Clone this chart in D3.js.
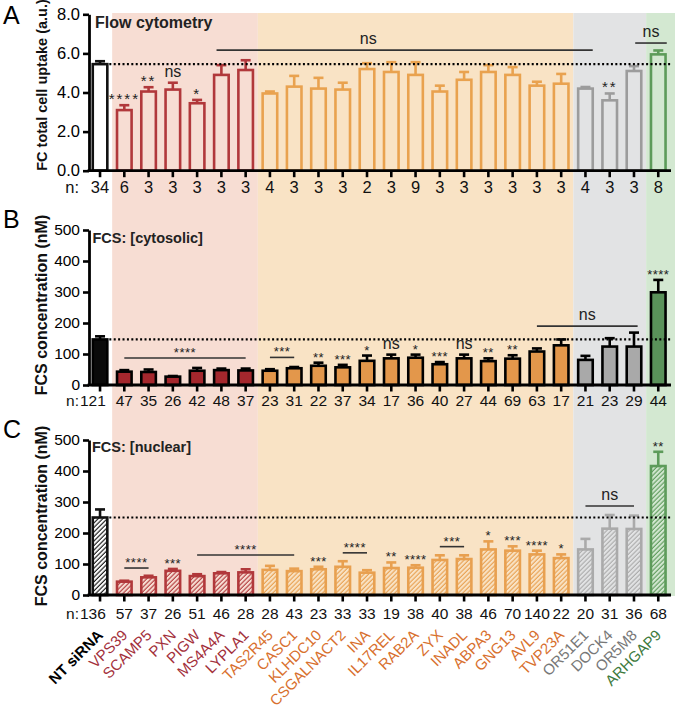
<!DOCTYPE html>
<html><head><meta charset="utf-8">
<script src="https://cdn.jsdelivr.net/npm/d3@7"></script>
<style>
body{margin:0;background:#fff}
svg{display:block}
text{font-family:"Liberation Sans",Arial,Helvetica,sans-serif}
</style>
</head><body>
<svg id="c" width="677" height="709"></svg>
<script>
const categories = ["NT siRNA","VPS39","SCAMP5","PXN","PIGW","MS4A4A","LYPLA1","TAS2R45","CASC1","KLHDC10","CSGALNACT2","INA","IL17REL","RAB2A","ZYX","INADL","ABPA3","GNG13","AVL9","TVP23A","OR51E1","DOCK4","OR5M8","ARHGAP9"];
const groups = ["ctrl","red","red","red","red","red","red","orange","orange","orange","orange","orange","orange","orange","orange","orange","orange","orange","orange","orange","gray","gray","gray","green"];

// Panel A: flow cytometry (a.u.)
const flowMean = [5.45,3.1,4.05,4.15,3.45,4.9,5.15,3.95,4.3,4.2,4.15,5.2,5.05,4.9,4.05,4.65,5.05,4.9,4.35,4.45,4.2,3.6,5.1,5.95];
const flowErr  = [0.15,0.25,0.22,0.35,0.17,0.5,0.5,0.1,0.55,0.55,0.35,0.3,0.5,0.65,0.3,0.4,0.35,0.4,0.2,0.5,0.08,0.35,0.25,0.2];
const flowN    = [34,6,3,3,3,3,3,4,3,3,3,2,3,9,3,3,3,3,3,3,4,3,3,8];
const flowTicks = [0,2,4,6,8];
const flowStars = [{i:1,t:"****"},{i:2,t:"**"},{i:3,t:"ns"},{i:4,t:"*"},{i:21,t:"**"}];
const flowBrackets = [{from:4.8,to:20.3,y:6.17,t:"ns",tx:11.05},{from:22.05,to:23.35,y:6.53,t:"ns"}];

// Panel B: FCS cytosolic (nM)
const cytoMean = [147,43,42,27,46,48,47,46,54,62,57,78,86,88,67,86,77,85,108,128,81,124,124,299];
const cytoErr  = [10,5,8,2,9,5,6,5,4,10,8,17,12,10,7,12,9,11,10,19,13,27,45,40];
const cytoN    = [121,47,35,26,42,48,37,23,31,22,37,34,17,36,40,27,44,69,63,17,21,23,29,44];
const cytoStars = [{i:9,t:"**"},{i:10,t:"***"},{i:11,t:"*"},{i:12,t:"ns"},{i:13,t:"*"},{i:14,t:"***"},{i:15,t:"ns"},{i:16,t:"**"},{i:17,t:"**"},{i:23,t:"****"}];
const cytoBrackets = [{from:1,to:6,y:87,t:"****"},{from:7,to:8,y:89,t:"***"},{from:18,to:22.15,y:190,t:"ns"}];

// Panel C: FCS nuclear (nM)
const nucMean = [250,43,57,78,61,70,73,81,77,83,91,72,87,88,113,116,147,143,131,119,147,214,213,416];
const nucErr  = [26,3,5,6,6,4,10,13,8,8,18,8,18,8,15,12,26,14,12,12,34,44,43,46];
const nucN    = [136,57,37,26,51,46,28,28,43,23,33,33,19,38,40,38,46,70,140,22,20,31,36,68];
const nucStars = [{i:3,t:"***"},{i:9,t:"***"},{i:12,t:"**"},{i:13,t:"****"},{i:16,t:"*"},{i:17,t:"***"},{i:18,t:"****"},{i:19,t:"*"},{i:23,t:"**"}];
const nucBrackets = [{from:1,to:2,y:87,t:"****"},{from:4,to:8,y:129,t:"****"},{from:10,to:11,y:136,t:"****"},{from:14,to:15,y:156,t:"***"},{from:20,to:22,y:287,t:"ns"}];
const concTicks = [0,100,200,300,400,500];

const svg = d3.select("#c");
const x = d3.scaleBand().domain(categories).range([87.9,670.4]).paddingInner(0.4).paddingOuter(0.2);
const step = x.step(), bw = x.bandwidth();
const cx = i => x(categories[0]) + bw/2 + i*step;
const AXIS_X = 89, AXIS_END = 671;

const bandColor = {red:"#f7ddd3", orange:"#f9e3c5", gray:"#e2e3e4", green:"#d3e8d1"};
const outline = {ctrl:"#111", red:"#b1383b", orange:"#e9a24f", gray:"#9c9c9c", green:"#5d9b5a"};
const solid = {ctrl:"#0a0a0a", red:"#a4272d", orange:"#e3974b", gray:"#a9a9a9", green:"#5a925a"};
const hatchStroke = {ctrl:"#111", red:"#b1383b", orange:"#e8a050", gray:"#aaaaaa", green:"#5d9b5a"};
const labelColor = {ctrl:"#000", red:"#a3303b", orange:"#d8702e", gray:"#787878", green:"#3d7a3d"};

// background bands
const runs = [];
let s0 = 0;
for (let i = 1; i <= groups.length; i++) {
  if (i === groups.length || groups[i] !== groups[s0]) { runs.push({g:groups[s0], a:s0, b:i-1}); s0 = i; }
}
runs.filter(r => r.g !== "ctrl").forEach(r => {
  const x0 = cx(r.a) - step/2;
  const x1 = r.b === categories.length-1 ? cx(r.b) + step*0.69 : cx(r.b) + step/2;
  svg.append("rect").attr("x", x0).attr("y", 13).attr("width", x1-x0).attr("height", 596-13).attr("fill", bandColor[r.g]);
});

// hatch patterns
const defs = svg.append("defs");
Object.keys(hatchStroke).forEach(g => {
  const p = defs.append("pattern").attr("id", "h-"+g).attr("patternUnits","userSpaceOnUse")
    .attr("width", 3.2).attr("height", 3.2).attr("patternTransform","rotate(45)");
  if (g === "ctrl") p.append("rect").attr("width",3.2).attr("height",3.2).attr("fill","#fff");
  p.append("line").attr("x1",1).attr("y1",0).attr("x2",1).attr("y2",3.2)
    .attr("stroke", hatchStroke[g]).attr("stroke-width", 1.1);
});

function panel(c) {
  const y = d3.scaleLinear().domain([0, c.max]).range([c.y0, c.y1]);
  const g = svg.append("g");
  const idx = d3.range(categories.length);

  // bars
  g.selectAll("rect.bar").data(idx).join("rect").attr("class","bar")
    .attr("x", i => cx(i) - bw/2)
    .attr("y", i => y(c.mean[i]))
    .attr("width", bw)
    .attr("height", i => y(0) - y(c.mean[i]))
    .attr("fill", i => c.style === "open" ? (groups[i]==="ctrl" ? "#fff" : "none")
                     : c.style === "filled" ? solid[groups[i]] : "url(#h-"+groups[i]+")")
    .attr("stroke", i => c.style === "filled" ? "#000" : (c.style === "open" ? outline[groups[i]] : hatchStroke[groups[i]]))
    .attr("stroke-width", 2.6);

  // error bars
  const ec = i => c.style === "filled" ? "#000" : (c.style === "open" ? outline[groups[i]] : hatchStroke[groups[i]]);
  idx.forEach(i => {
    const top = y(c.mean[i] + c.err[i]);
    g.append("line").attr("x1", cx(i)).attr("x2", cx(i)).attr("y1", y(c.mean[i])).attr("y2", top)
      .attr("stroke", ec(i)).attr("stroke-width", 2.6);
    g.append("line").attr("x1", cx(i)-5).attr("x2", cx(i)+5).attr("y1", top).attr("y2", top)
      .attr("stroke", ec(i)).attr("stroke-width", 2.6);
  });

  // dotted reference line
  g.append("line").attr("x1", cx(0)+bw/2+2).attr("x2", AXIS_END).attr("y1", y(c.mean[0])).attr("y2", y(c.mean[0]))
    .attr("stroke","#000").attr("stroke-width", 2.2).attr("stroke-dasharray","2 2.4");

  // y axis
  const ya = g.append("g").attr("transform", `translate(${AXIS_X},0)`)
    .call(d3.axisLeft(y).tickValues(c.ticks).tickFormat(c.fmt).tickSize(6).tickSizeOuter(0).tickPadding(3));
  ya.select(".domain").attr("stroke","#000").attr("stroke-width",2.8);
  ya.selectAll(".tick line").attr("stroke","#000").attr("stroke-width",2.6);
  ya.selectAll(".tick text").attr("font-size", c.tickFont).attr("fill","#000").style("font-family","Liberation Sans, Arial, sans-serif");

  // x axis
  g.append("line").attr("x1", AXIS_X-1.4).attr("x2", AXIS_END).attr("y1", y(0)).attr("y2", y(0))
    .attr("stroke","#000").attr("stroke-width",2.8);
  idx.forEach(i => {
    g.append("line").attr("x1", cx(i)).attr("x2", cx(i)).attr("y1", y(0)).attr("y2", y(0)+6.5)
      .attr("stroke","#000").attr("stroke-width",2.6);
    const t = g.append("text").attr("y", y(0)+c.nOff).attr("font-size", c.tickFont).attr("fill","#111").text(c.n[i]);
    if (i === 0 && c.ntStart) t.attr("x", 80).attr("text-anchor","start");
    else t.attr("x", cx(i)).attr("text-anchor","middle");
  });
  g.append("text").attr("x", 79).attr("y", y(0)+c.nOff).attr("text-anchor","end").attr("font-size", c.tickFont).attr("fill","#111").text("n:");

  // single-bar significance
  c.stars.forEach(d => {
    const top = y(c.mean[d.i] + c.err[d.i]);
    const ns = d.t === "ns";
    g.append("text").attr("x", cx(d.i)).attr("y", ns ? top-6 : top-1).attr("text-anchor","middle")
      .attr("font-size", ns ? 16 : c.starFont).attr("letter-spacing", ns ? 0 : c.starSpacing)
      .attr("fill","#222").text(d.t);
  });
  // brackets
  c.brackets.forEach(d => {
    const yy = y(d.y);
    g.append("line").attr("x1", cx(d.from)).attr("x2", cx(d.to)).attr("y1", yy).attr("y2", yy)
      .attr("stroke","#333").attr("stroke-width",1.6);
    const ns = d.t === "ns";
    const tx = d.tx !== undefined ? cx(d.tx) : (cx(d.from)+cx(d.to))/2;
    g.append("text").attr("x", tx).attr("y", ns ? yy-6 : yy-1).attr("text-anchor","middle")
      .attr("font-size", ns ? 16 : c.starFont).attr("letter-spacing", ns ? 0 : c.starSpacing)
      .attr("fill","#222").text(d.t);
  });

  // titles
  g.append("text").attr("x", c.titleX).attr("y", c.titleY).attr("font-size", c.titleSize).attr("font-weight","bold").attr("fill","#222").text(c.title);
  g.append("text").attr("transform", `translate(47,${c.ylabelY}) rotate(-90)`).attr("text-anchor","middle")
    .attr("font-size", c.ylabelSize).attr("font-weight","bold").attr("fill","#111").text(c.ylabel);
  g.append("text").attr("x", 3).attr("y", c.letterY).attr("font-size", 25).attr("fill","#000").text(c.letter);
}

panel({mean:flowMean, err:flowErr, n:flowN, y0:170.7, y1:14.3, max:8, ticks:flowTicks, fmt:d3.format(".1f"),
  style:"open", tickFont:16.5, nOff:22.5, starFont:15, starSpacing:2, stars:flowStars, brackets:flowBrackets,
  title:"Flow cytometry", titleX:95, titleY:28, titleSize:16, ylabel:"FC total cell uptake (a.u.)", ylabelSize:14.5, ylabelY:85,
  letter:"A", letterY:24, ntStart:false});

panel({mean:cytoMean, err:cytoErr, n:cytoN, y0:385, y1:230, max:500, ticks:concTicks, fmt:d3.format("d"),
  style:"filled", tickFont:15.5, nOff:21, starFont:13, starSpacing:0.5, stars:cytoStars, brackets:cytoBrackets,
  title:"FCS: [cytosolic]", titleX:92.5, titleY:243, titleSize:14.5, ylabel:"FCS concentration (nM)", ylabelSize:16, ylabelY:305,
  letter:"B", letterY:227.5, ntStart:true});

panel({mean:nucMean, err:nucErr, n:nucN, y0:595, y1:440, max:500, ticks:concTicks, fmt:d3.format("d"),
  style:"hatch", tickFont:15.5, nOff:24, starFont:13, starSpacing:0.5, stars:nucStars, brackets:nucBrackets,
  title:"FCS: [nuclear]", titleX:92, titleY:452, titleSize:14.5, ylabel:"FCS concentration (nM)", ylabelSize:16, ylabelY:516,
  letter:"C", letterY:437.5, ntStart:true});

// category labels
svg.append("g").selectAll("text").data(categories).join("text")
  .attr("transform", (d,i) => `translate(${cx(i)+4},636) rotate(-45)`)
  .attr("text-anchor","end")
  .attr("font-size", 15)
  .attr("font-weight", (d,i) => groups[i]==="ctrl" ? "bold" : "normal")
  .attr("fill", (d,i) => labelColor[groups[i]])
  .text(d => d);
</script>
</body></html>
